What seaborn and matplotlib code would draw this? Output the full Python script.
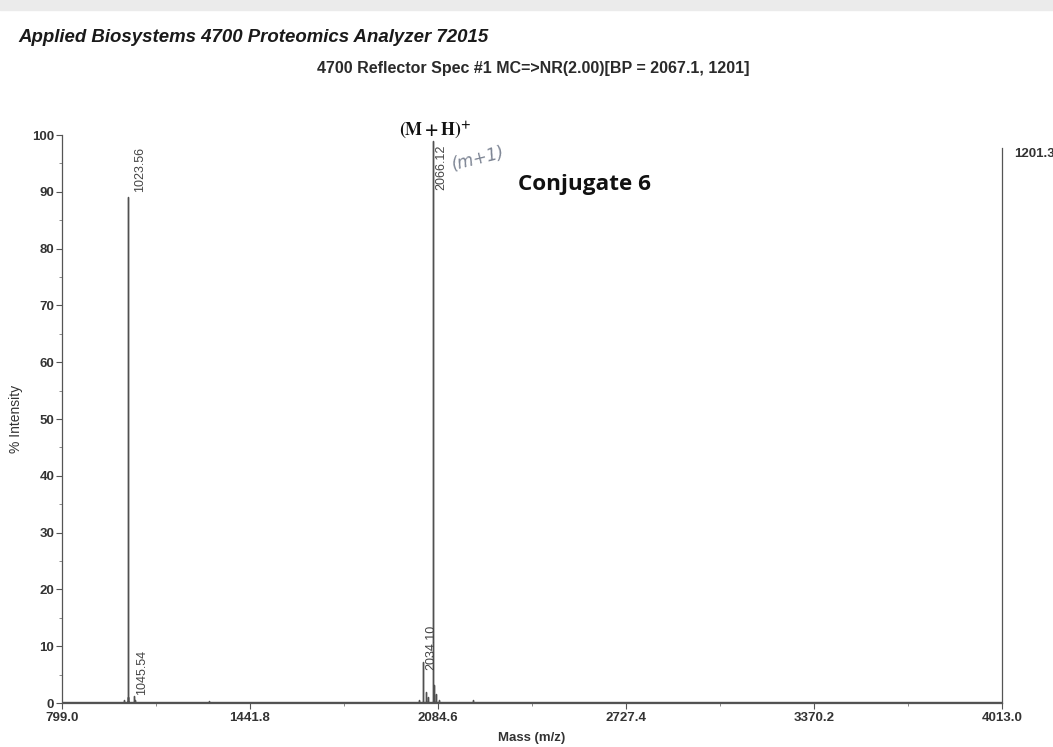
import numpy as np
import pandas as pd
import seaborn as sns
import matplotlib.pyplot as plt
from matplotlib.patches import Rectangle

# Centroided peak list (m/z, % intensity)
peak_mz = [1010.2, 1023.56, 1024.6, 1045.54, 1047.0, 1300.0,
           2020.1, 2034.10, 2044.1, 2050.1, 2066.12, 2072.1, 2078.1, 2088.1, 2205.0]
peak_int = [0.5, 89.0, 1.0, 1.3, 0.6, 0.4,
            0.6, 7.2, 2.0, 1.0, 99.0, 3.2, 1.5, 0.6, 0.5]

# Labelled peaks: m/z, label text, label x-offset (Da), label base (% intensity)
label_mz = [1023.56, 1045.54, 2034.10, 2066.12]
label_txt = ["1023.56", "1045.54", "2034.10", "2066.12"]
label_dx = [44, 26, 26, 30]
label_y = [90.0, 1.4, 5.8, 90.3]

baseline = 0.2
mz_min, mz_max = 799.0, 4013.0
x_ticks = [799.0, 1441.8, 2084.6, 2727.4, 3370.2, 4013.0]
y_ticks = [0, 10, 20, 30, 40, 50, 60, 70, 80, 90, 100]

sns.set_style("ticks")
plt.rcParams['font.family'] = ['Liberation Sans', 'DejaVu Sans']

# Stick spectrum: baseline -> peak top -> baseline for each peak
xs, ys = [mz_min], [baseline]
for m, h in sorted(zip(peak_mz, peak_int)):
    xs += [m, m, m]
    ys += [baseline, h, baseline]
xs.append(mz_max)
ys.append(baseline)
spec = pd.DataFrame({"mz": xs, "intensity": ys})

fig = plt.figure(figsize=(10.53, 7.47), dpi=100)
fig.patches.append(Rectangle((0, 0.986), 1, 0.014, transform=fig.transFigure,
                             color="#ebebeb", zorder=0))
ax = fig.add_axes([62 / 1053, 1 - 703 / 747, 940 / 1053, (703 - 135) / 747])

sns.lineplot(data=spec, x="mz", y="intensity", sort=False, estimator=None,
             color="#505050", linewidth=1.0, ax=ax)

ax.set_xlim(mz_min, mz_max)
ax.set_ylim(0, 100)
ax.set_xticks(x_ticks)
ax.set_xticklabels([f"{v:.1f}" for v in x_ticks])
ax.set_yticks(y_ticks)
ax.set_xticks([(a + b) / 2 for a, b in zip(x_ticks[:-1], x_ticks[1:])], minor=True)
ax.set_yticks(np.arange(5, 100, 10), minor=True)
ax.tick_params(axis="both", which="major", length=4, width=0.8, color="#555555",
               labelsize=9.5, labelcolor="#333333", pad=1.5)
ax.tick_params(axis="x", which="major", pad=2.5)
ax.tick_params(axis="both", which="minor", length=2.5, width=0.6, color="#777777")
for lbl in ax.get_xticklabels() + ax.get_yticklabels():
    lbl.set_fontweight("bold")

for side in ["left", "bottom", "right"]:
    ax.spines[side].set_color("#555555")
    ax.spines[side].set_linewidth(0.9)
ax.spines["top"].set_visible(False)
ax.spines["right"].set_bounds(0, 97.7)
ax.spines["left"].set_bounds(0, 100)

ax.set_xlabel("Mass (m/z)", fontsize=9.5, fontweight="bold", color="#333333", labelpad=6)
ax.set_ylabel("% Intensity", fontsize=10, color="#333333", labelpad=7)

# Peak annotations (rotated, beside each labelled peak)
for m, t, dx, yb in zip(label_mz, label_txt, label_dx, label_y):
    ax.text(m + dx, yb, t, rotation=90, ha="center", va="bottom",
            fontsize=9, color="#444444")

ax.text(2075, 100.9, r"$\mathbf{(M + H)^{+}}$", ha="center", va="center",
        fontsize=13, math_fontfamily="stix", color="#111111")
ax.text(2125, 93.2, "(m+1)", rotation=14, fontsize=12, style="italic",
        color="#7d8594", family="DejaVu Sans", ha="left", va="bottom")
ax.text(0.485, 0.913, "Conjugate 6", transform=ax.transAxes, fontsize=16.2,
        fontweight="bold", family="Open Sans", color="#111111", ha="left", va="center")
ax.text(1.013, 0.966, "1201.3", transform=ax.transAxes, fontsize=9.5,
        fontweight="bold", color="#333333", ha="left", va="center", clip_on=False)

fig.text(18 / 1053, 1 - 37 / 747, "Applied Biosystems 4700 Proteomics Analyzer 72015",
         fontsize=13.4, fontweight="bold", style="italic", color="#1a1a1a",
         ha="left", va="center")
fig.text(533 / 1053, 1 - 68 / 747,
         "4700 Reflector Spec #1 MC=>NR(2.00)[BP = 2067.1, 1201]",
         fontsize=11.5, fontweight="bold", color="#2a2a2a", ha="center", va="center")

fig.savefig("out.png", dpi=100)
